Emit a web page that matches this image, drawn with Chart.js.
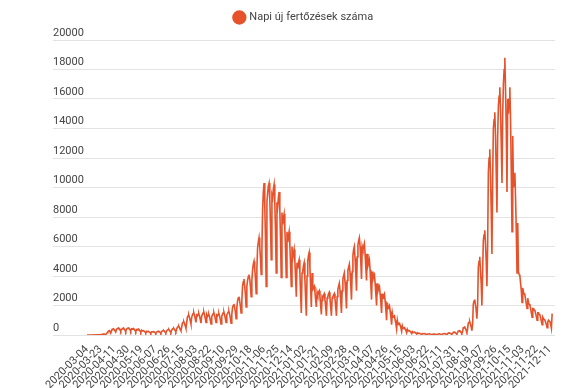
<!DOCTYPE html>
<html lang="hu">
<head>
  <meta charset="UTF-8">
  <title>Napi új fertőzések száma</title>
  <script src="https://cdn.jsdelivr.net/npm/chart.js"></script>
  <style>
    html, body { margin: 0; padding: 0; background: #fff; }
    #wrap { width: 575px; height: 388px; position: relative; }
  </style>
</head>
<body>
  <div id="wrap"><canvas id="casesChart"></canvas></div>

  <script>
    // tick labels, one every 19 days
    const tickLabels = [
      '2020-03-04','2020-03-23','2020-04-11','2020-04-30','2020-05-19','2020-06-07',
      '2020-06-26','2020-07-15','2020-08-03','2020-08-22','2020-09-10','2020-09-29',
      '2020-10-18','2020-11-06','2020-11-25','2020-12-14','2021-01-02','2021-01-21',
      '2021-02-09','2021-02-28','2021-03-19','2021-04-07','2021-04-26','2021-05-15',
      '2021-06-03','2021-06-22','2021-07-11','2021-07-31','2021-08-19','2021-09-07',
      '2021-09-26','2021-10-15','2021-11-03','2021-11-22','2021-12-11'
    ];
    const tickStep = 19;

    // daily new cases
    const dailyCases = [
      2,0,1,0,2,0,0,
      3,5,3,6,2,8,11,
      12,15,18,22,20,12,36,
      40,55,62,70,45,25,90,
      150,210,270,300,230,125,260,
      380,410,430,350,290,200,360,
      430,460,480,420,340,250,400,
      410,450,470,400,320,230,390,
      440,470,480,410,350,260,420,
      400,420,440,380,300,220,370,
      350,380,400,330,260,180,320,
      270,290,300,250,210,150,250,
      220,240,250,200,160,110,210,
      200,220,230,190,150,100,190,
      230,250,260,210,170,110,220,
      270,290,300,250,190,140,260,
      330,360,380,310,240,170,320,
      400,430,450,380,300,220,390,
      520,570,600,500,380,280,520,
      790,860,900,780,620,450,800,
      1200,1300,1350,1180,980,750,1200,
      1350,1450,1500,1320,1100,850,1350,
      1300,1400,1450,1280,1050,800,1300,
      1400,1500,1550,1360,1120,850,1380,
      1250,1350,1400,1230,1000,750,1250,
      1350,1450,1500,1320,1100,850,1350,
      1300,1400,1450,1260,1030,750,1280,
      1400,1500,1550,1360,1120,850,1380,
      1450,1550,1600,1400,1150,800,1400,
      1850,2000,2100,1850,1550,1100,1850,
      2300,2500,2600,2300,1950,1500,2350,
      3300,3600,3800,3300,2750,1900,3300,
      3700,3950,4100,3800,3300,2600,3700,
      4400,4800,5000,4500,3800,2800,4500,
      5900,6300,6600,6000,5200,4100,5900,
      8500,9700,10300,8800,6500,3300,9000,
      9600,10100,10300,9200,7500,5100,9500,
      9300,9900,10200,9000,7000,4200,9000,
      8700,9300,9700,8500,6500,3900,8300,
      7500,7900,8200,7200,5800,3900,7000,
      6300,6700,7000,6100,4800,3300,6000,
      5200,5500,5800,5000,3900,2600,4900,
      4500,4900,5100,4200,2800,1500,4200,
      4300,4700,4900,3800,2500,1300,4000,
      5000,5400,5600,4600,3200,1900,4200,
      3100,3200,3300,2900,2400,1900,2900,
      2700,2900,3000,2600,2000,1400,2600,
      2500,2700,2800,2400,1900,1300,2500,
      2600,2800,2900,2500,1900,1300,2500,
      2600,2700,2800,2450,1900,1300,2600,
      3100,3300,3500,3000,2300,1500,3000,
      3800,4000,4200,3600,2800,1800,3700,
      4400,4600,4800,4200,3400,2400,4300,
      5400,5800,6000,5200,4200,3000,5300,
      6100,6400,6600,6000,5000,3800,6000,
      5800,6000,6200,5500,4600,3700,5500,
      4700,4900,5100,4400,3400,2400,4300,
      3800,4000,4100,3500,2800,2000,3500,
      3000,3200,3300,2800,2200,1500,2800,
      2500,2700,2800,2300,1700,1000,2200,
      1800,1900,2000,1600,1200,700,1500,
      1200,1250,1300,1000,750,400,1000,
      720,770,800,640,480,250,620,
      450,480,500,400,300,150,380,
      270,290,300,240,180,100,230,
      180,190,200,160,120,60,150,
      105,115,120,90,65,30,90,
      80,85,90,70,50,20,65,
      70,75,80,60,40,10,55,
      60,65,70,52,35,10,50,
      70,75,80,60,40,10,55,
      88,95,100,78,55,20,75,
      130,140,150,115,80,30,110,
      175,190,200,160,115,50,150,
      265,285,300,240,170,80,230,
      480,520,550,440,320,150,420,
      800,860,900,740,560,300,700,
      2100,2300,2400,2050,1700,1100,2000,
      4600,5000,5300,4400,3500,2000,4300,
      6400,6800,7100,6200,5000,3300,6000,
      11000,12000,12600,10900,8500,5500,10500,
      14000,14600,15100,13500,11000,8300,13500,
      15500,16200,16800,15200,13000,10300,15000,
      17000,18000,18800,16500,14000,9700,16000,
      15000,16000,16800,14500,11000,7000,13500,
      10000,10500,11000,9200,7000,4200,7600,
      4300,4100,4000,3500,3000,2200,3200,
      2900,2800,2700,2400,2100,1800,2500,
      2200,2100,2000,1800,1500,1200,1800,
      1800,1700,1650,1450,1250,1000,1500,
      1500,1400,1350,1150,950,700,1200,
      1100,1050,1000,850,700,500,900,
      1000,950,900,700,450,1450
    ];

    const lineColor = '#E5522B';
    const textColor = '#444';
    const fontFamily = 'Roboto, "Noto Sans", sans-serif';

    // push the plot down a bit below the legend
    const legendGap = {
      id: 'legendGap',
      beforeInit(chart) {
        const origFit = chart.legend.fit;
        chart.legend.fit = function () {
          origFit.bind(chart.legend)();
          this.height += 7;
        };
      }
    };

    const ctx = document.getElementById('casesChart').getContext('2d');
    new Chart(ctx, {
      type: 'line',
      data: {
        datasets: [{
          label: 'Napi új fertőzések száma',
          data: dailyCases.map((v, i) => ({ x: i, y: v })),
          borderColor: lineColor,
          backgroundColor: lineColor,
          borderWidth: 1.6,
          pointRadius: 0,
          tension: 0,
          fill: false
        }]
      },
      options: {
        responsive: true,
        maintainAspectRatio: false,
        animation: false,
        layout: { padding: { left: 53, right: 20, top: 4, bottom: 0 } },
        plugins: {
          legend: {
            position: 'top',
            labels: {
              usePointStyle: true,
              pointStyle: 'circle',
              boxWidth: 9,
              boxHeight: 9,
              padding: 8,
              color: textColor,
              font: { family: fontFamily, size: 11 }
            }
          },
          tooltip: { enabled: false }
        },
        scales: {
          x: {
            type: 'linear',
            min: -47.5,
            max: 653,
            afterBuildTicks: axis => {
              axis.ticks = tickLabels.map((_, k) => ({ value: k * tickStep }));
            },
            afterFit: axis => { axis.height = 53; },
            ticks: {
              autoSkip: false,
              minRotation: 45,
              maxRotation: 45,
              padding: 0,
              color: textColor,
              font: { family: fontFamily, size: 11 },
              callback: value => tickLabels[Math.round(value / tickStep)]
            },
            grid: { display: false },
            border: { display: false }
          },
          y: {
            min: 0,
            max: 20000,
            ticks: {
              stepSize: 2000,
              mirror: true,
              padding: 0,
              labelOffset: -7,
              color: textColor,
              font: { family: fontFamily, size: 11 },
              callback: value => String(value)
            },
            grid: { color: '#e3e3e3', lineWidth: 1, drawTicks: false },
            border: { display: false }
          }
        }
      },
      plugins: [legendGap]
    });
  </script>
</body>
</html>
